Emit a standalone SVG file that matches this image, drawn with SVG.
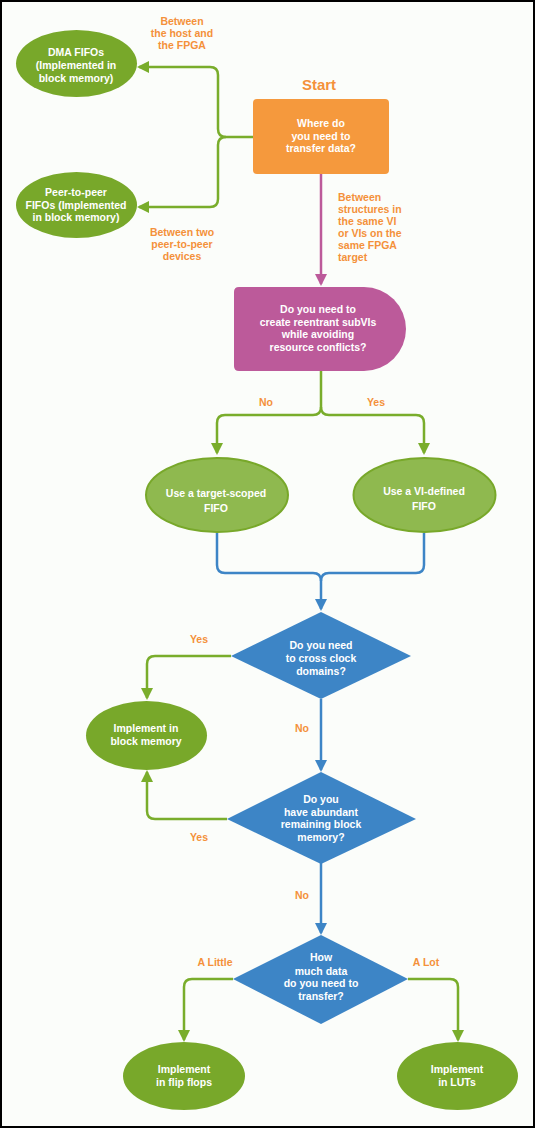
<svg xmlns="http://www.w3.org/2000/svg" width="535" height="1128" viewBox="0 0 535 1128">
<defs>
<style>
.t{font-family:"Liberation Sans",Arial,sans-serif;font-weight:bold;font-size:10.5px;fill:#ffffff;text-anchor:middle}
.l{font-family:"Liberation Sans",Arial,sans-serif;font-weight:bold;font-size:10.5px;fill:#f4913a;text-anchor:middle}
.ls{text-anchor:start}
.c{fill:none;stroke-width:2.5}
.g{stroke:#79ad2b}
.b{stroke:#3d85c6}
.p{stroke:#bc5a9a}
.eg{fill:#78a82a}
.el{fill:#8fb94f;stroke:#78a82a;stroke-width:2}
.d{fill:#3d85c6}
</style>
<marker id="ag" viewBox="0 0 12 12" refX="10" refY="6" markerWidth="12" markerHeight="12" markerUnits="userSpaceOnUse" orient="auto"><path d="M0,0 L12,6 L0,12 Z" fill="#79ad2b"/></marker>
<marker id="ab" viewBox="0 0 12 12" refX="10" refY="6" markerWidth="12" markerHeight="12" markerUnits="userSpaceOnUse" orient="auto"><path d="M0,0 L12,6 L0,12 Z" fill="#3d85c6"/></marker>
<marker id="ap" viewBox="0 0 12 12" refX="10" refY="6" markerWidth="12" markerHeight="12" markerUnits="userSpaceOnUse" orient="auto"><path d="M0,0 L12,6 L0,12 Z" fill="#bc5a9a"/></marker>
</defs>
<rect x="1" y="1" width="533" height="1126" fill="#fbfdfa" stroke="#000000" stroke-width="2"/>

<g id="connectors">
<path class="c g" d="M253,137 H226 Q218,137 218,129 V75 Q218,67 210,67 H139" marker-end="url(#ag)"/>
<path class="c g" d="M226,137 Q218,137 218,145 V199 Q218,207 210,207 H139" marker-end="url(#ag)"/>
<path class="c p" d="M321,174 V284" marker-end="url(#ap)"/>
<path class="c g" d="M321,371 V407 Q321,415 313,415 H225 Q217,415 217,423 V453" marker-end="url(#ag)"/>
<path class="c g" d="M321,407 Q321,415 329,415 H416 Q424,415 424,423 V453" marker-end="url(#ag)"/>
<path class="c b" d="M217,533 V565 Q217,573 225,573 H313 Q321,573 321,581 V609" marker-end="url(#ab)"/>
<path class="c b" d="M424,533 V565 Q424,573 416,573 H329 Q321,573 321,581"/>
<path class="c g" d="M231,656 H155 Q147,656 147,664 V698" marker-end="url(#ag)"/>
<path class="c b" d="M321,699 V770" marker-end="url(#ab)"/>
<path class="c g" d="M227,819 H155 Q147,819 147,811 V772" marker-end="url(#ag)"/>
<path class="c b" d="M321,863 V933" marker-end="url(#ab)"/>
<path class="c g" d="M233,979 H192 Q184,979 184,987 V1040" marker-end="url(#ag)"/>
<path class="c g" d="M408,979 H450 Q458,979 458,987 V1040" marker-end="url(#ag)"/>
</g>

<g id="labels">
<text class="l" x="182" y="25">Between</text>
<text class="l" x="182" y="37">the host and</text>
<text class="l" x="182" y="49">the FPGA</text>
<text class="l" x="182" y="236">Between two</text>
<text class="l" x="182" y="248">peer-to-peer</text>
<text class="l" x="182" y="260">devices</text>
<text class="l ls" x="338" y="201">Between</text>
<text class="l ls" x="338" y="213">structures in</text>
<text class="l ls" x="338" y="225">the same VI</text>
<text class="l ls" x="338" y="237">or VIs on the</text>
<text class="l ls" x="338" y="249">same FPGA</text>
<text class="l ls" x="338" y="261">target</text>
<text class="l" x="266" y="406">No</text>
<text class="l" x="376" y="406">Yes</text>
<text class="l" x="199" y="643">Yes</text>
<text class="l" x="302" y="732">No</text>
<text class="l" x="199" y="841">Yes</text>
<text class="l" x="302" y="899">No</text>
<text class="l" x="215" y="966">A Little</text>
<text class="l" x="426" y="966">A Lot</text>
</g>

<g id="start">
<text class="l" x="319" y="90" style="font-size:15px">Start</text>
<rect x="253" y="99" width="136" height="75" rx="4" fill="#f5993d"/>
<text class="t" x="321" y="127">Where do</text>
<text class="t" x="321" y="140">you need to</text>
<text class="t" x="321" y="152">transfer data?</text>
</g>

<g id="dma">
<ellipse class="eg" cx="76.5" cy="63.5" rx="60.5" ry="33.5"/>
<text class="t" x="76" y="56">DMA FIFOs</text>
<text class="t" x="76" y="69">(Implemented in</text>
<text class="t" x="76" y="82">block memory)</text>
</g>

<g id="peer">
<ellipse class="eg" cx="76.5" cy="205" rx="60.5" ry="33"/>
<text class="t" x="76" y="196">Peer-to-peer</text>
<text class="t" x="76" y="208.5">FIFOs (Implemented</text>
<text class="t" x="76" y="221">in block memory)</text>
</g>

<g id="reentrant">
<path d="M239,287 H364 A42,42 0 0 1 364,371 H239 Q234,371 234,366 V292 Q234,287 239,287 Z" fill="#bc5a9a"/>
<text class="t" x="318" y="313">Do you need to</text>
<text class="t" x="318" y="326">create reentrant subVIs</text>
<text class="t" x="318" y="338">while avoiding</text>
<text class="t" x="318" y="351">resource conflicts?</text>
</g>

<g id="target-scoped">
<ellipse class="el" cx="217" cy="495" rx="71" ry="37"/>
<text class="t" x="216" y="497">Use a target-scoped</text>
<text class="t" x="216" y="512">FIFO</text>
</g>

<g id="vi-defined">
<ellipse class="el" cx="424.5" cy="495" rx="71" ry="37"/>
<text class="t" x="424" y="495">Use a VI-defined</text>
<text class="t" x="424" y="510">FIFO</text>
</g>

<g id="clock">
<polygon class="d" points="321,612 411,656 321,699 231,656"/>
<text class="t" x="321" y="649">Do you need</text>
<text class="t" x="321" y="662">to cross clock</text>
<text class="t" x="321" y="675">domains?</text>
</g>

<g id="block-memory">
<ellipse class="eg" cx="146.5" cy="735.5" rx="60.5" ry="34.5"/>
<text class="t" x="146" y="732">Implement in</text>
<text class="t" x="146" y="745">block memory</text>
</g>

<g id="abundant">
<polygon class="d" points="321,772 416,819 321,864 227,819"/>
<text class="t" x="321" y="803">Do you</text>
<text class="t" x="321" y="816">have abundant</text>
<text class="t" x="321" y="828">remaining block</text>
<text class="t" x="321" y="841">memory?</text>
</g>

<g id="how-much">
<polygon class="d" points="321,935 408,979 321,1024 233,979"/>
<text class="t" x="321" y="961">How</text>
<text class="t" x="321" y="975">much data</text>
<text class="t" x="321" y="987">do you need to</text>
<text class="t" x="321" y="1000">transfer?</text>
</g>

<g id="flip-flops">
<ellipse class="eg" cx="184" cy="1076" rx="61" ry="34"/>
<text class="t" x="184" y="1073">Implement</text>
<text class="t" x="184" y="1086">in flip flops</text>
</g>

<g id="luts">
<ellipse class="eg" cx="457.5" cy="1076" rx="60.5" ry="34"/>
<text class="t" x="457" y="1073">Implement</text>
<text class="t" x="457" y="1086">in LUTs</text>
</g>
</svg>
